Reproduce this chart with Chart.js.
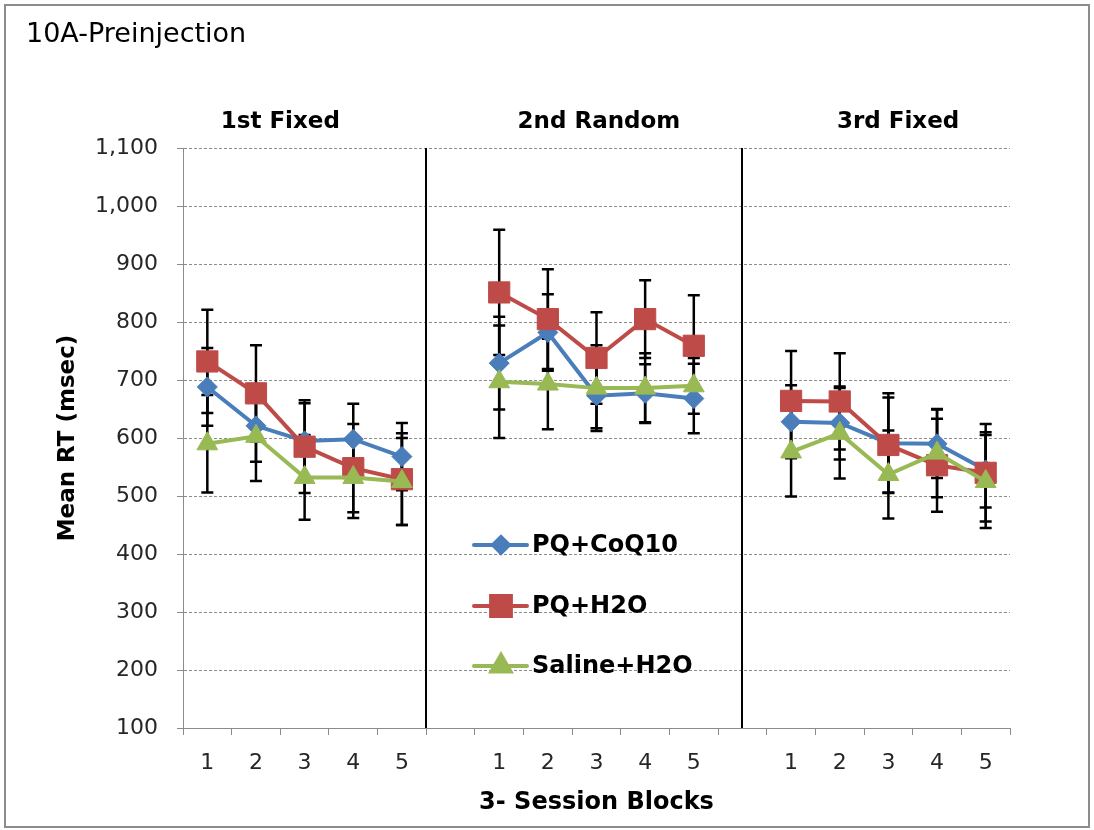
<!DOCTYPE html>
<html>
<head>
<meta charset="utf-8">
<title>10A-Preinjection</title>
<script src="https://cdn.jsdelivr.net/npm/chart.js@4.4.1/dist/chart.umd.min.js"></script>
<style>
    html, body { margin: 0; padding: 0; background: #fff; }
    #rt { display: block; }
</style>
</head>
<body>
<canvas id="rt" width="1094" height="830"></canvas>
<script>
// Block labels inside each session, and the session names
const blockLabels = ['1', '2', '3', '4', '5'];
const sessionNames = ['1st Fixed', '2nd Random', '3rd Fixed'];

// Mean RT (msec), sessions back to back: 1st Fixed, 2nd Random, 3rd Fixed
const coq10Mean  = [688, 621, 595, 598, 568,   729, 782, 673, 677, 668,   628, 626, 591, 590, 545];
const coq10Err   = [ 67,  62,  65,  61,  58,    80,  66,  56,  50,  60,    63,  63,  86,  59,  65];

const h2oMean    = [732, 677, 585, 548, 529,   851, 805, 738, 805, 759,   664, 663, 588, 553, 540];
const h2oErr     = [ 89,  83,  80,  76,  79,   108,  86,  79,  67,  87,    86,  83,  82,  80,  84];

const salineMean = [590, 603, 532, 532, 525,   697, 693, 686, 686, 690,   576, 608, 537, 574, 525];
const salineErr  = [ 84,  77,  73,  70,  75,    97,  78,  74,  60,  48,    77,  78,  76,  76,  80];

const yTicks = { min: 100, max: 1100, step: 100 };

const FONT = '"DejaVu Sans"';

// Put an empty slot between sessions so each one stands apart on the axis
function withGaps(arr)
{
    const out = [];
    for (let s = 0; s < sessionNames.length; s++)
    {
        if (s > 0) out.push(null);
        out.push(...arr.slice(s * blockLabels.length, (s + 1) * blockLabels.length));
    }
    return out;
}

const labels = withGaps(blockLabels.concat(blockLabels, blockLabels)).map(v => v === null ? '' : v);

// Black error bars under the lines and markers
const errorBars =
{
    id: 'errorBars',
    beforeDatasetsDraw(chart)
    {
        const ctx = chart.ctx;
        const y = chart.scales.y;
        ctx.save();
        ctx.strokeStyle = '#000';
        ctx.lineWidth = 2.5;
        chart.data.datasets.forEach((ds, i) =>
        {
            const meta = chart.getDatasetMeta(i);
            ds.data.forEach((v, j) =>
            {
                if (v === null) return;
                const x = meta.data[j].x;
                const top = y.getPixelForValue(v + ds.errors[j]);
                const bot = y.getPixelForValue(v - ds.errors[j]);
                ctx.beginPath();
                ctx.moveTo(x, top); ctx.lineTo(x, bot);
                ctx.moveTo(x - 6, top); ctx.lineTo(x + 6, top);
                ctx.moveTo(x - 6, bot); ctx.lineTo(x + 6, bot);
                ctx.stroke();
            });
        });
        ctx.restore();
    }
};

// Frame, session dividers, headings and the legend box
const decorations =
{
    id: 'decorations',
    beforeDraw(chart)
    {
        const ctx = chart.ctx;
        ctx.save();
        ctx.fillStyle = '#fff';
        ctx.fillRect(0, 0, chart.width, chart.height);
        ctx.strokeStyle = '#8c8c8c';
        ctx.lineWidth = 2;
        ctx.strokeRect(5, 5, chart.width - 10, chart.height - 8);
        ctx.restore();
    },
    beforeDatasetsDraw(chart)
    {
        const ctx = chart.ctx;
        const x = chart.scales.x;
        const area = chart.chartArea;
        ctx.save();
        ctx.strokeStyle = '#000';
        ctx.lineWidth = 2;
        [4.5, 11].forEach(pos =>
        {
            const px = Math.round(x.getPixelForValue(pos));
            ctx.beginPath();
            ctx.moveTo(px, area.top);
            ctx.lineTo(px, area.bottom);
            ctx.stroke();
        });
        ctx.restore();
    },
    afterDraw(chart)
    {
        const ctx = chart.ctx;
        const x = chart.scales.x;
        const area = chart.chartArea;
        ctx.save();
        ctx.fillStyle = '#000';
        ctx.textBaseline = 'middle';

        ctx.font = `27px ${FONT}`;
        ctx.textAlign = 'left';
        ctx.fillText('10A-Preinjection', 26, 35);

        ctx.font = `bold 23px ${FONT}`;
        ctx.textAlign = 'center';
        [1.5, 8.05, 14.2].forEach((pos, i) =>
        {
            ctx.fillText(sessionNames[i], x.getPixelForValue(pos), 122);
        });

        // Legend
        const rows = [545, 606, 666];
        const lx = area.left + 289;
        ctx.font = `bold 24px ${FONT}`;
        chart.data.datasets.slice().sort((a, b) => b.order - a.order).forEach((ds, i) =>
        {
            const ly = rows[i];
            ctx.strokeStyle = ds.borderColor;
            ctx.lineWidth = 4;
            ctx.lineCap = 'round';
            ctx.beginPath();
            ctx.moveTo(lx + 2, ly);
            ctx.lineTo(lx + 55, ly);
            ctx.stroke();
            Chart.helpers.drawPoint(ctx,
            {
                pointStyle: ds.pointStyle,
                radius: ds.pointStyle === 'rectRot' ? 8 : ds.pointRadius - 1,
                borderWidth: 1
            }, lx + 29, ly);
            ctx.fillStyle = ds.backgroundColor;
            ctx.fill();
            ctx.fillStyle = '#000';
            ctx.textAlign = 'left';
            ctx.fillText(ds.label, lx + 60, ly + 1);
        });
        ctx.restore();
    }
};

function series(label, mean, err, color, style, radius, order)
{
    return {
        label: label,
        data: withGaps(mean),
        errors: withGaps(err),
        borderColor: color,
        backgroundColor: color,
        borderWidth: 4,
        pointStyle: style,
        pointRadius: radius,
        pointHoverRadius: radius,
        pointBorderWidth: 1,
        pointBorderColor: color,
        pointBackgroundColor: color,
        spanGaps: false,
        tension: 0,
        order: order
    };
}

new Chart(
    document.getElementById('rt'),
    {
        type: 'line',

        data:
        {
            labels: labels,
            datasets:
            [
                series('PQ+CoQ10',    coq10Mean,  coq10Err,  '#4a7ebb', 'rectRot',  10, 3),
                series('PQ+H2O',      h2oMean,    h2oErr,    '#be4b48', 'rect',     15, 2),
                series('Saline+H2O',  salineMean, salineErr, '#98b954', 'triangle', 12, 1)
            ]
        },

        options:
        {
            responsive: false,
            animation: false,
            events: [],

            layout:
            {
                padding: { top: 148, right: 84, bottom: 0, left: 0 }
            },

            plugins:
            {
                legend: { display: false },
                title: { display: false },
                tooltip: { enabled: false }
            },

            scales:
            {
                x:
                {
                    type: 'category',
                    offset: true,
                    afterFit: scale => { scale.height = 102; },
                    grid:
                    {
                        offset: true,
                        drawOnChartArea: false,
                        drawTicks: true,
                        tickLength: 7,
                        tickColor: '#8c8c8c',
                        tickWidth: 1
                    },
                    border: { color: '#8c8c8c', width: 1 },
                    ticks:
                    {
                        autoSkip: false,
                        maxRotation: 0,
                        padding: 15,
                        color: '#262626',
                        font: { family: FONT, size: 22 }
                    },
                    title:
                    {
                        display: true,
                        text: '3- Session Blocks',
                        color: '#000',
                        font: { family: FONT, size: 24, weight: 'bold' },
                        padding: { top: 0, bottom: 13 }
                    }
                },

                y:
                {
                    min: yTicks.min,
                    max: yTicks.max,
                    afterFit: scale => { scale.width = 183; },
                    grid:
                    {
                        color: '#8c8c8c',
                        lineWidth: 1,
                        drawTicks: true,
                        tickLength: 6,
                        tickColor: '#8c8c8c',
                        tickBorderDash: [1, 0]
                    },
                    border: { color: '#8c8c8c', width: 1, dash: [3, 2] },
                    ticks:
                    {
                        stepSize: yTicks.step,
                        padding: 19,
                        color: '#262626',
                        font: { family: FONT, size: 22 },
                        callback: v => v.toLocaleString('en-US')
                    },
                    title:
                    {
                        display: true,
                        text: 'Mean RT (msec)',
                        color: '#000',
                        font: { family: FONT, size: 23, weight: 'bold' },
                        padding: { top: 54, bottom: 0 }
                    }
                }
            }
        },

        plugins: [errorBars, decorations]
    }
);
</script>
</body>
</html>
